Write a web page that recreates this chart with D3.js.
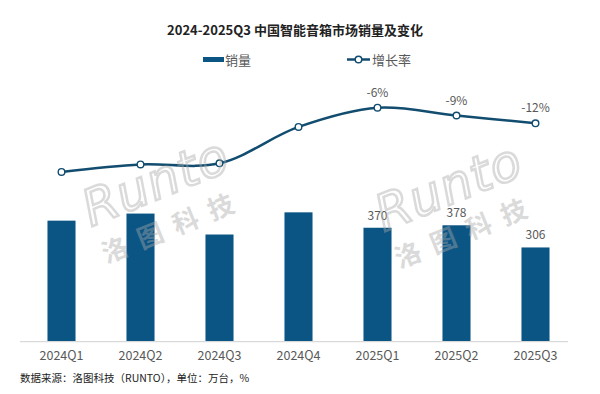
<!DOCTYPE html>
<html>
<head>
<meta charset="utf-8">
<script src="https://cdn.jsdelivr.net/npm/d3@7"></script>
<style>
html,body{margin:0;padding:0;background:#fff;}
svg{display:block;}
</style>
</head>
<body>
<svg id="chart" width="600" height="394"></svg>
<script>
const categories = ["2024Q1","2024Q2","2024Q3","2024Q4","2025Q1","2025Q2","2025Q3"];
const sales = [393, 416, 348, 420, 370, 378, 306];
const growth = [-30.7, -27.8, -27.4, -13.4, -6, -9, -12];
const salesLabels = [null, null, null, null, "370", "378", "306"];
const growthLabels = [null, null, null, null, "-6%", "-9%", "-12%"];
const title = "2024-2025Q3 中国智能音箱市场销量及变化";
const legendNames = ["销量", "增长率"];
const source = "数据来源：洛图科技（RUNTO），单位：万台，%";

const FONT = "'Noto Sans CJK SC','Noto Sans',sans-serif";
const barColor = "#0b5585";
const lineColor = "#124d70";
const textGray = "#595959";

const svg = d3.select("#chart");

const x = d3.scaleBand().domain(categories).range([22, 575])
  .paddingInner(0.645).paddingOuter(0.3225);
const y = d3.scaleLinear().domain([0, 500]).range([341.7, 187.7]);
const y2 = d3.scaleLinear().domain([-40, 10]).range([196.1, 66.1]);

// title
svg.append("text").attr("x", 295).attr("y", 35).attr("text-anchor", "middle")
  .attr("font-family", FONT).attr("font-size", 13).attr("font-weight", "bold")
  .attr("fill", "#222").text(title);

// legend
svg.append("rect").attr("x", 203).attr("y", 57).attr("width", 21).attr("height", 5).attr("fill", barColor);
svg.append("text").attr("x", 225).attr("y", 64.5).attr("font-family", FONT).attr("font-size", 13)
  .attr("fill", textGray).text(legendNames[0]);
svg.append("line").attr("x1", 347).attr("x2", 370).attr("y1", 59.5).attr("y2", 59.5)
  .attr("stroke", lineColor).attr("stroke-width", 2.5);
svg.append("circle").attr("cx", 358.5).attr("cy", 59.5).attr("r", 3.3)
  .attr("fill", "#fff").attr("stroke", lineColor).attr("stroke-width", 1.5);
svg.append("text").attr("x", 372).attr("y", 64.5).attr("font-family", FONT).attr("font-size", 13)
  .attr("fill", textGray).text(legendNames[1]);

// bars
svg.append("g").selectAll("rect").data(categories).join("rect")
  .attr("x", d => x(d)).attr("width", x.bandwidth())
  .attr("y", (d, i) => y(sales[i])).attr("height", (d, i) => y(0) - y(sales[i]))
  .attr("fill", barColor);

// bar labels
svg.append("g").selectAll("text").data(categories).join("text")
  .filter((d, i) => salesLabels[i] !== null)
  .attr("x", d => x(d) + x.bandwidth() / 2)
  .attr("y", d => y(sales[categories.indexOf(d)]) - 8)
  .attr("text-anchor", "middle").attr("font-family", FONT).attr("font-size", 12)
  .attr("fill", textGray).text(d => salesLabels[categories.indexOf(d)]);

// x axis
const xAxis = d3.axisBottom(x).tickSize(0).tickPadding(9);
const gx = svg.append("g").attr("transform", `translate(0,${y(0)})`).call(xAxis);
gx.select(".domain").remove();
gx.append("line").attr("x1", 20).attr("x2", 568).attr("y1", 0).attr("y2", 0)
  .attr("stroke", "#d9d9d9").attr("stroke-width", 1.2);
gx.selectAll(".tick text").attr("font-family", FONT).attr("font-size", 12.5)
  .attr("fill", textGray);

// line
const pts = categories.map((c, i) => [x(c) + x.bandwidth() / 2, y2(growth[i])]);
svg.append("path").datum(pts)
  .attr("d", d3.line().curve(d3.curveCatmullRom.alpha(0.5)))
  .attr("fill", "none").attr("stroke", lineColor).attr("stroke-width", 2.5);
svg.append("g").selectAll("circle").data(pts).join("circle")
  .attr("cx", d => d[0]).attr("cy", d => d[1]).attr("r", 3.3)
  .attr("fill", "#fff").attr("stroke", lineColor).attr("stroke-width", 1.4);

// growth labels
svg.append("g").selectAll("text").data(categories).join("text")
  .filter((d, i) => growthLabels[i] !== null)
  .attr("x", d => x(d) + x.bandwidth() / 2)
  .attr("y", d => y2(growth[categories.indexOf(d)]) - 11)
  .attr("text-anchor", "middle").attr("font-family", FONT).attr("font-size", 12)
  .attr("fill", textGray).text(d => growthLabels[categories.indexOf(d)]);

// watermarks
function watermark(cx, cy) {
  const g = svg.append("g").attr("transform", `translate(${cx},${cy}) rotate(-22)`)
    .attr("opacity", 0.42);
  g.append("text").attr("x", 0).attr("y", 0).attr("text-anchor", "middle")
    .attr("font-family", "'DejaVu Sans',sans-serif").attr("font-size", 50)
    .attr("font-style", "italic").attr("font-weight", "300")
    .attr("fill", "none").attr("stroke", "#a8a8a8").attr("stroke-width", 2.5)
    .attr("letter-spacing", 1).text("Runto");
  g.append("text").attr("x", 0).attr("y", 40).attr("text-anchor", "middle")
    .attr("font-family", FONT).attr("font-size", 26).attr("font-weight", "bold")
    .attr("fill", "#a8a8a8").attr("letter-spacing", 12).text("洛图科技");
}
watermark(162, 198);
watermark(455, 203);

// source
svg.append("text").attr("x", 20).attr("y", 382).attr("font-family", FONT).attr("font-size", 10.5)
  .attr("fill", "#222").text(source);
</script>
</body>
</html>
